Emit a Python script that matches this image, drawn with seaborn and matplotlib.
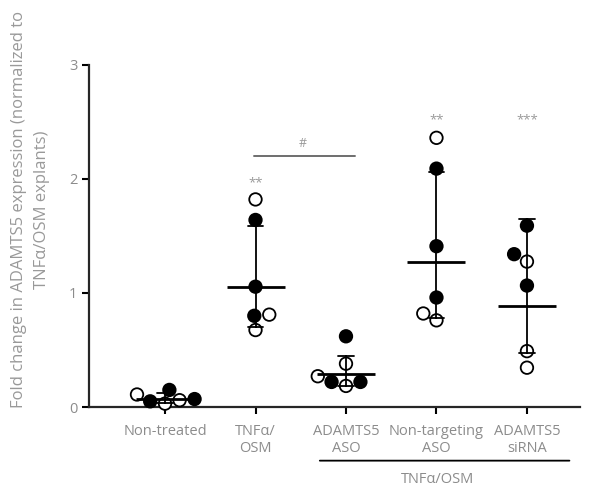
import numpy as np
import pandas as pd
import matplotlib
matplotlib.use("Agg")
import matplotlib.pyplot as plt
import seaborn as sns

# --- data ---
groups = ["Non-treated", "TNFα/\nOSM", "ADAMTS5\nASO", "Non-targeting\nASO", "ADAMTS5\nsiRNA"]
open_vals = [
    [0.06, 0.11, 0.03],
    [1.82, 0.81, 0.675],
    [0.38, 0.185, 0.27],
    [2.36, 0.76, 0.82],
    [1.275, 0.49, 0.345],
]
filled_vals = [
    [0.05, 0.15, 0.07],
    [1.64, 1.055, 0.80],
    [0.62, 0.22, 0.22],
    [2.09, 1.41, 0.96],
    [1.59, 1.34, 1.065],
]
stars = ["", "**", "", "**", "***"]
star_y = [None, 1.97, None, 2.52, 2.52]

rows = []
for g, ov, fv in zip(groups, open_vals, filled_vals):
    for v in fv:
        rows.append((g, v, "filled"))
    for v in ov:
        rows.append((g, v, "open"))
df = pd.DataFrame(rows, columns=["group", "value", "kind"])


# geometric mean +/- geometric SD
def gmean(x):
    return np.exp(np.mean(np.log(x)))


def gsd_interval(x):
    lx = np.log(x)
    m = lx.mean()
    s = lx.std(ddof=1)
    return np.exp(m - s), np.exp(m + s)


sns.set_style("ticks")
plt.rcParams["font.family"] = ["Open Sans", "DejaVu Sans"]
grey = "#8c8c8c"

fig = plt.figure(figsize=(5.95, 4.91), dpi=100)
ax = fig.add_axes([0.1496, 0.171, 0.825, 0.697])

sns.swarmplot(data=df, x="group", y="value", hue="kind", order=groups,
              hue_order=["filled", "open"],
              palette={"filled": "black", "open": "white"},
              edgecolor="black", linewidth=1.3, size=9, legend=False,
              clip_on=False, zorder=3, ax=ax)

sns.pointplot(data=df, x="group", y="value", order=groups,
              estimator=gmean, errorbar=gsd_interval,
              linestyle="none", marker="_", markersize=42,
              markeredgewidth=2.0, color="black", capsize=0.17,
              err_kws={"linewidth": 1.3, "zorder": 5}, zorder=6, ax=ax)

ax.set_xlim(-0.84, 4.585)
ax.set_ylim(0, 3)
ax.set_yticks([0, 1, 2, 3])
sns.despine(ax=ax)
for sp in ["left", "bottom"]:
    ax.spines[sp].set_linewidth(1.6)
ax.tick_params(axis="both", length=5, width=1.5, colors="black",
               labelcolor=grey)
ax.tick_params(axis="x", labelsize=10.5, pad=7)
ax.tick_params(axis="y", labelsize=10.5)
for lab in ax.get_xticklabels():
    lab.set_linespacing(1.2)
ax.set_xlabel("")
ax.set_ylabel("Fold change in ADAMTS5 expression (normalized to\nTNFα/OSM explants)",
              color="#999999", fontsize=12, linespacing=1.55)
ax.yaxis.set_label_coords(-0.08, 0.576)

# significance marks
for i, (s, y) in enumerate(zip(stars, star_y)):
    if s:
        ax.text(i, y, s, ha="center", va="center", color="#999999", fontsize=9.5)
ax.plot([0.98, 2.1], [2.2, 2.2], color="#6e6e6e", lw=1.4)
ax.text(1.52, 2.31, "#", ha="center", va="center", color="#999999", fontsize=9)

# treatment bracket below the axis
ax.annotate("", xy=(1.68, -0.47), xytext=(4.5, -0.47), xycoords="data",
            arrowprops=dict(arrowstyle="-", color="black", lw=1.3),
            annotation_clip=False)
ax.text(3.01, -0.635, "TNFα/OSM", ha="center", va="center", color=grey,
        fontsize=10.5, clip_on=False)

fig.savefig("out.png", dpi=100)
